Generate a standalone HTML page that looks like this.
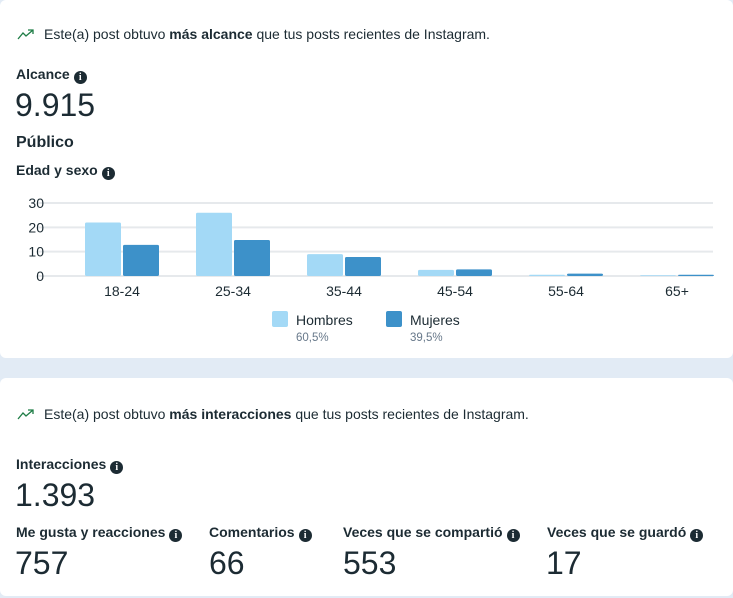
<!DOCTYPE html>
<html><head><meta charset="utf-8"><style>
body{margin:0;width:733px;height:598px;background:#e2ebf5;font-family:"Liberation Sans",sans-serif;color:#1c2b33;position:relative;overflow:hidden}
.card{position:absolute;left:0;width:733px;background:#fff;border-radius:6px}
.t{position:absolute;white-space:nowrap}
.i{display:inline-block;width:13px;height:13px;border-radius:50%;background:#1c2b33;color:#fff;font-size:10px;line-height:13px;text-align:center;font-weight:bold;vertical-align:-1px;margin-left:4px;font-family:"Liberation Serif",serif}
.lbl{font-size:14px;font-weight:bold}
.big{font-size:32px}
</style></head><body>
<div class="card" style="top:0;height:358px">
<svg class="t" style="left:17px;top:28px" width="18" height="12"><polyline points="1,11 6,5 9,8 16,2" fill="none" stroke="#1e7d46" stroke-width="1.3"/><polyline points="11,2 16,2 16,6" fill="none" stroke="#1e7d46" stroke-width="1.3"/></svg>
<div class="t" style="left:44px;top:26px;font-size:14px">Este(a) post obtuvo <b>más alcance</b> que tus posts recientes de Instagram.</div>
<div class="t lbl" style="left:16px;top:66px">Alcance<span class="i">i</span></div>
<div class="t big" style="left:15px;top:87px">9.915</div>
<div class="t" style="left:16px;top:134px;font-size:16px;font-weight:bold">Público</div>
<div class="t lbl" style="left:16px;top:162px">Edad y sexo<span class="i">i</span></div>
<svg id="chart" class="t" style="left:0;top:190px" width="733" height="160"></svg>
</div>
<div class="card" style="top:378px;height:218px">
<svg class="t" style="left:17px;top:30px" width="18" height="12"><polyline points="1,11 6,5 9,8 16,2" fill="none" stroke="#1e7d46" stroke-width="1.3"/><polyline points="11,2 16,2 16,6" fill="none" stroke="#1e7d46" stroke-width="1.3"/></svg>
<div class="t" style="left:44px;top:28px;font-size:14px">Este(a) post obtuvo <b>más interacciones</b> que tus posts recientes de Instagram.</div>
<div class="t lbl" style="left:16px;top:78px">Interacciones<span class="i">i</span></div>
<div class="t big" style="left:15px;top:99px">1.393</div>
<div class="t lbl" style="left:16px;top:146px">Me gusta y reacciones<span class="i">i</span></div>
<div class="t big" style="left:15px;top:167px">757</div>
<div class="t lbl" style="left:209px;top:146px">Comentarios<span class="i">i</span></div>
<div class="t big" style="left:209px;top:167px">66</div>
<div class="t lbl" style="left:343px;top:146px">Veces que se compartió<span class="i">i</span></div>
<div class="t big" style="left:343px;top:167px">553</div>
<div class="t lbl" style="left:547px;top:146px">Veces que se guardó<span class="i">i</span></div>
<div class="t big" style="left:546px;top:167px">17</div>
</div>
<script>
const categories=["18-24","25-34","35-44","45-54","55-64","65+"];
const hombres=[22,26,9,2.5,0.5,0.3];
const mujeres=[12.8,14.8,7.8,2.7,1,0.5];
const ticks=[0,10,20,30];
const seriesNames=["Hombres","Mujeres"];
const seriesPct=["60,5%","39,5%"];
const svg=document.getElementById('chart');
const NS='http://www.w3.org/2000/svg';
const y0=86,yTop=13,yMax=30;
const y=v=>y0-(v/yMax)*(y0-yTop);
const cx=i=>122+111*i;
function mk(tag,a,txt){const e=document.createElementNS(NS,tag);for(const k in a)e.setAttribute(k,a[k]);if(txt!=null)e.textContent=txt;svg.appendChild(e);return e;}
ticks.forEach(t=>{
 const g=mk('line',{x1:38,x2:713,y1:y(t),y2:y(t),stroke:'#e6e9ec','stroke-width':2});
 
 
 const l=mk('text',{x:44,y:y(t)+5,'text-anchor':'end','font-size':14,fill:'#1c2b33'},t);
 
 
});
categories.forEach((c,i)=>{
 const h=mk('rect',{x:cx(i)-37,y:y(hombres[i]),width:36,height:y0-y(hombres[i]),fill:'#a3d9f6',rx:1.5});
 
 
 const m=mk('rect',{x:cx(i)+1,y:y(mujeres[i]),width:36,height:y0-y(mujeres[i]),fill:'#3d91c9',rx:1.5});
 
 
 const t=mk('text',{x:cx(i),y:106,'text-anchor':'middle','font-size':14,fill:'#1c2b33'},c);
 
 
});
const lx=[272,386],cols=['#a3d9f6','#3d91c9'];
seriesNames.forEach((n,k)=>{
 const s=mk('rect',{x:lx[k],y:121,width:16,height:16,fill:cols[k],rx:2});
 
 
 const t=mk('text',{x:lx[k]+24,y:135,'font-size':14,fill:'#1c2b33'},n);
 
 
 const p=mk('text',{x:lx[k]+24,y:151,'font-size':11.5,fill:'#67788a'},seriesPct[k]);
 
 
});
</script>
</body></html>
